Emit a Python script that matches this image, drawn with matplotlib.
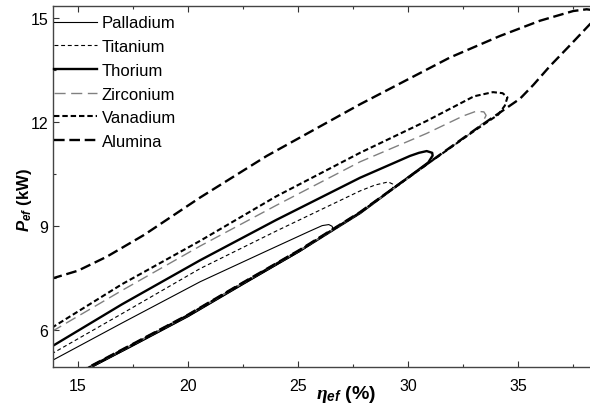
import matplotlib
matplotlib.use("Agg")
import matplotlib.pyplot as plt
from matplotlib.ticker import MultipleLocator

plt.rcParams['font.family'] = ['Liberation Sans', 'DejaVu Sans']
plt.rcParams['mathtext.fontset'] = 'custom'
plt.rcParams['mathtext.it'] = 'Liberation Serif:italic:bold'
plt.rcParams['mathtext.bf'] = 'Liberation Sans:italic:bold'
plt.rcParams['mathtext.rm'] = 'Liberation Sans:bold'

# ---- data: (efficiency %, power kW) loops ----
palladium_eta = [13.8, 17.0, 20.55, 23.58, 25.5, 26.1, 26.4, 26.55, 26.6,
                 25.1, 22.5, 20.0, 17.5, 15.4]
palladium_p = [5.12, 6.21, 7.40, 8.29, 8.85, 9.02, 9.05, 9.00, 8.91,
               8.28, 7.32, 6.39, 5.55, 4.86]

titanium_eta = [13.8, 17.0, 20.55, 24.0, 27.82, 28.5, 29.1, 29.3, 29.33, 29.18,
                27.82, 25.1, 22.5, 20.0, 17.5, 15.4]
titanium_p = [5.32, 6.48, 7.78, 8.86, 10.02, 10.19, 10.28, 10.22, 10.14, 10.01,
              9.37, 8.29, 7.34, 6.41, 5.57, 4.87]

thorium_eta = [13.8, 17.0, 20.55, 24.0, 27.82, 30.09, 30.5, 30.85, 31.1, 31.12, 30.92,
               27.82, 25.1, 22.5, 20.0, 17.5, 15.4]
thorium_p = [5.53, 6.75, 8.02, 9.18, 10.40, 11.03, 11.12, 11.17, 11.12, 11.04, 10.84,
             9.38, 8.30, 7.35, 6.42, 5.58, 4.88]

zirconium_eta = [13.8, 17.0, 20.55, 24.0, 27.82, 30.85, 32.5, 33.1, 33.45, 33.55, 33.35,
                 33.12, 31.0, 27.82, 25.1, 22.5, 20.0, 17.5, 15.4]
zirconium_p = [5.96, 7.15, 8.43, 9.60, 10.86, 11.68, 12.18, 12.32, 12.30, 12.20, 11.95,
               11.81, 10.84, 9.39, 8.31, 7.36, 6.43, 5.59, 4.89]

vanadium_eta = [13.8, 17.0, 20.55, 24.0, 27.82, 30.85, 33.0, 33.86, 34.3, 34.52, 34.4, 34.1,
                33.12, 31.0, 27.82, 25.1, 22.5, 20.0, 17.5, 15.4]
vanadium_p = [6.07, 7.33, 8.58, 9.86, 11.12, 12.04, 12.75, 12.87, 12.84, 12.72, 12.48, 12.22,
              11.80, 10.85, 9.40, 8.32, 7.37, 6.44, 5.60, 4.90]

alumina_eta = [13.8, 15.0, 16.3, 18.0, 20.55, 23.58, 27.82, 31.91, 34.18, 36.0, 37.51, 38.12,
               38.6, 38.8, 38.6, 38.27, 37.3, 36.45, 35.7, 35.09, 33.12, 31.0, 27.82, 25.1,
               22.5, 20.0, 17.5, 15.4]
alumina_p = [7.49, 7.72, 8.12, 8.75, 9.83, 11.03, 12.52, 13.87, 14.49, 14.93, 15.21, 15.26,
             15.22, 15.10, 15.00, 14.83, 14.18, 13.62, 13.08, 12.68, 11.82, 10.86, 9.41, 8.33,
             7.38, 6.45, 5.61, 4.91]

labels = ["Palladium", "Titanium", "Thorium", "Zirconium", "Vanadium", "Alumina"]
x_ticks = [15, 20, 25, 30, 35]
y_ticks = [6, 9, 12, 15]

# ---- figure ----
W, H = 590, 406
fig = plt.figure(figsize=(W / 100, H / 100), dpi=100)
L, R, T, B = 53, 600, 7, 368
ax = fig.add_axes([L / W, (H - B) / H, (R - L) / W, (B - T) / H])

styles = [
    dict(color='black', lw=0.8, ls='-'),
    dict(color='black', lw=0.8, ls=(0, (3.5, 2.5))),
    dict(color='black', lw=1.7, ls='-'),
    dict(color='#808080', lw=1.0, ls=(0, (8, 4))),
    dict(color='black', lw=1.5, ls=(0, (2.6, 1.4))),
    dict(color='black', lw=1.7, ls=(0, (4.5, 2.0))),
]
series = [(palladium_eta, palladium_p), (titanium_eta, titanium_p),
          (thorium_eta, thorium_p), (zirconium_eta, zirconium_p),
          (vanadium_eta, vanadium_p), (alumina_eta, alumina_p)]

for (ex, py), lab, st in zip(series, labels, styles):
    ax.plot(ex, py, label=lab, solid_joinstyle='round', **st)

# axes range
px_per_x = 22.0
px_per_y = 104.0 / 3
ax.set_xlim(15 - (78 - L) / px_per_x, 15 + (R - 78) / px_per_x)
ax.set_ylim(15 - (B - 19.3) / px_per_y, 15 + (19.3 - T) / px_per_y)

ax.set_xticks(x_ticks)
ax.set_yticks(y_ticks)
ax.xaxis.set_minor_locator(MultipleLocator(2.5))
ax.yaxis.set_minor_locator(MultipleLocator(1.5))
ax.tick_params(which='both', direction='in', top=True, right=False,
               colors='#333333', labelcolor='black', labelsize=11.5)
ax.tick_params(which='major', length=4, width=0.8)
ax.tick_params(which='minor', length=2.5, width=0.8)
ax.tick_params(axis='x', pad=8)
ax.tick_params(axis='y', pad=3.5)
for s in ax.spines.values():
    s.set_color('#444444')
    s.set_linewidth(1.0)

ax.set_xlabel(r'$\eta_{\mathbf{ef}}$ (%)', fontsize=14, fontweight='bold')
ax.xaxis.set_label_coords((346.5 - L) / (R - L), (B - 384) / (B - T))
ax.set_ylabel(r'$\mathbf{P}_{\mathbf{ef}}$ (kW)', fontsize=12, fontweight='bold')
ax.yaxis.set_label_coords((34 - L) / (R - L), (B - 200) / (B - T))

ax.legend(loc='upper left', bbox_to_anchor=((54 - L) / (R - L), (B - 16.5) / (B - T)),
          frameon=False, fontsize=12, handlelength=2.6, handletextpad=0.25,
          labelspacing=0.52, borderaxespad=0, borderpad=0)

fig.savefig('out.png', dpi=100)
